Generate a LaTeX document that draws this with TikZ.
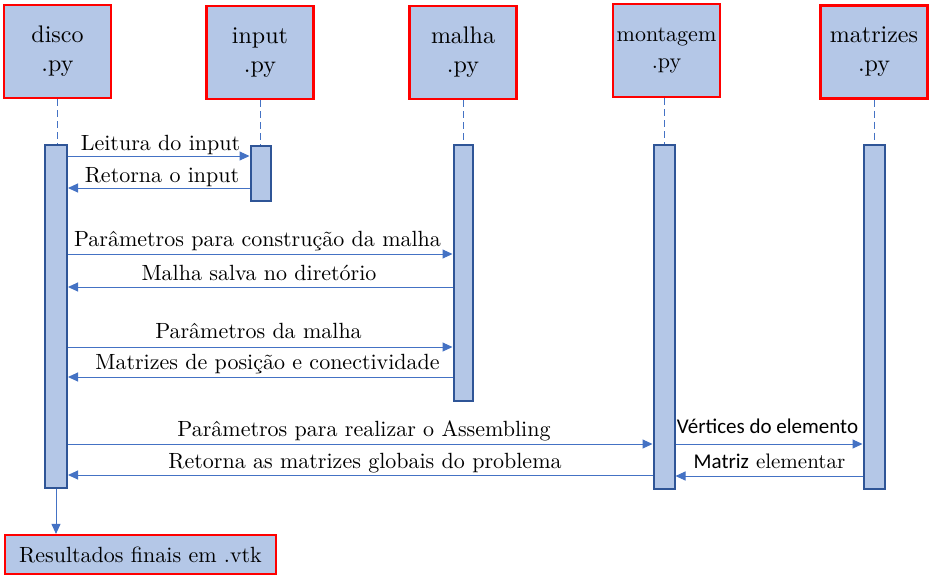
\documentclass[tikz,border=0pt]{standalone}
\usepackage{fontspec}
\setmainfont{lmroman10-regular.otf}
\newfontfamily\carlito{Carlito}
\usetikzlibrary{arrows.meta}
\definecolor{boxfill}{HTML}{B4C7E7}
\definecolor{boxred}{HTML}{FF0000}
\definecolor{bardraw}{HTML}{2F5597}
\definecolor{arrowblue}{HTML}{4472C4}
\begin{document}
\begin{tikzpicture}[x=1pt,y=-1pt,
 hdr/.style={draw=boxred, line width=2.2pt, fill=boxfill, minimum width=107pt, minimum height=93pt, align=center, font=\fontsize{24}{29}\selectfont, inner sep=0pt},
 bar/.style={draw=bardraw, line width=2pt, fill=boxfill, inner sep=0pt},
 life/.style={draw=arrowblue, dash pattern=on 7pt off 4pt, line width=0.8pt},
 msg/.style={draw=arrowblue, line width=1pt, -{Triangle[length=10pt,width=9pt]}},
 lbl/.style={font=\fontsize{22}{26}\selectfont, anchor=base, inner sep=0pt},
 slbl/.style={font=\fontsize{21}{25}\selectfont, anchor=base, inner sep=0pt}]
\useasboundingbox (0,0) rectangle (934,579);
% headers
\node[hdr] (disco) at (57.5,51.5) {disco\\.py};
\node[hdr] (input) at (260,52.5) {input\\.py};
\node[hdr] (malha) at (463,52.5) {malha\\.py};
\node[hdr, font=\fontsize{22}{27}\selectfont] (montagem) at (666.5,50.5) {montagem\\.py};
\node[hdr] (matrizes) at (874,52) {matrizes\\.py};
% activation bars
\node[bar, minimum width=22pt, minimum height=343pt] (discobar) at (56,316.5) {};
\node[bar, minimum width=20pt, minimum height=55pt] (inputbar) at (260.5,173) {};
\node[bar, minimum width=19pt, minimum height=256pt] (malhabar) at (463,272.5) {};
\node[bar, minimum width=21pt, minimum height=344pt] (montagembar) at (664,316.5) {};
\node[bar, minimum width=21pt, minimum height=344pt] (matrizesbar) at (874,316.5) {};
% lifelines
\draw[life] (disco.south) -- (disco.south |- discobar.north);
\draw[life] (input.south) -- (input.south |- inputbar.north);
\draw[life] (malha.south) -- (malha.south |- malhabar.north);
\draw[life] (montagem.south -| montagembar.north) -- (montagembar.north);
\draw[life] (matrizes.south) -- (matrizes.south |- matrizesbar.north);
% messages
\draw[msg] (discobar.east |- 0,156) -- (inputbar.west |- 0,156);
\node[lbl] (m1) at (160.5,150) {Leitura do input};
\draw[msg] (inputbar.west |- 0,188) -- (discobar.east |- 0,188);
\node[lbl] (m2) at (162,182) {Retorna o input};
\draw[msg] (discobar.east |- 0,254) -- (malhabar.west |- 0,254);
\node[lbl] (m3) at (257.5,246) {Parâmetros para construção da malha};
\draw[msg] (malhabar.west |- 0,287) -- (discobar.east |- 0,287);
\node[lbl] (m4) at (259,280) {Malha salva no diretório};
\draw[msg] (discobar.east |- 0,347) -- (malhabar.west |- 0,347);
\node[lbl] (m5) at (258.5,338) {Parâmetros da malha};
\draw[msg] (malhabar.west |- 0,377) -- (discobar.east |- 0,377);
\node[lbl] (m6) at (267.5,369) {Matrizes de posição e conectividade};
\draw[msg] (discobar.east |- 0,444) -- (montagembar.west |- 0,444);
\node[lbl] (m7) at (364,436) {Parâmetros para realizar o Assembling};
\draw[msg] (montagembar.west |- 0,475) -- (discobar.east |- 0,475);
\node[lbl] (m8) at (365,468) {Retorna as matrizes globais do problema};
\draw[msg] (montagembar.east |- 0,444) -- (matrizesbar.west |- 0,444);
\node[slbl] (m9) at (767.5,433) {\carlito Vértices do elemento};
\draw[msg] (matrizesbar.west |- 0,476) -- (montagembar.east |- 0,476);
\node[slbl] (m10) at (769.5,468) {{\carlito Matriz} elementar};
% result
\node[draw=boxred, line width=2.2pt, fill=boxfill, minimum width=271pt, minimum height=39pt, inner sep=0pt, font=\fontsize{22}{26}\selectfont] (result) at (140.5,554.5) {Resultados finais em .vtk};
\draw[msg] (discobar.south) -- (discobar.south |- result.north);
\end{tikzpicture}
\end{document}
